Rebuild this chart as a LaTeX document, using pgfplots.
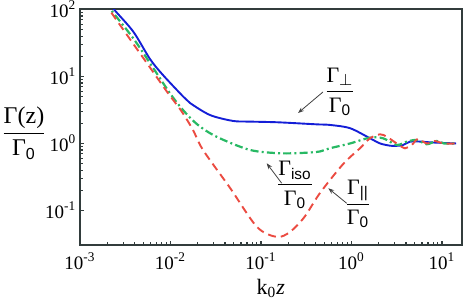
\documentclass[border=0pt]{standalone}
\usepackage{fontspec}
\setmainfont{Liberation Serif}
\setsansfont{Liberation Sans}
\usepackage{amsmath}
\usepackage{pgfplots}
\pgfplotsset{compat=1.18}
\usetikzlibrary{arrows.meta}
\definecolor{cblue}{RGB}{20,30,215}
\definecolor{cgreen}{RGB}{40,185,100}
\definecolor{cred}{RGB}{235,75,65}
\definecolor{cframe}{RGB}{50,60,60}
\begin{document}
\fontsize{9}{10}\selectfont
\begin{tikzpicture}
\begin{axis}[
  xmode=log, ymode=log,
  scale only axis, width=190.85pt, height=117.75pt,
  xmin=1e-3, xmax=16.5, ymin=0.0305, ymax=100,
  axis line style={cframe, line width=1pt},
  every tick/.style={cframe, line width=0.6pt},
  major tick length=2.2pt, minor tick length=1.4pt,
  xtick pos=left, ytick pos=left,
  xtick={0.001,0.01,0.1,1,10},
  xticklabels={10\textsuperscript{-3},10\textsuperscript{-2},10\textsuperscript{-1},10\textsuperscript{0},10\textsuperscript{1}},
  ytick={0.1,1,10,100},
  yticklabels={10\textsuperscript{-1},10\textsuperscript{0},10\textsuperscript{1},10\textsuperscript{2}},
  tick label style={font=\fontsize{9.5}{10}\selectfont},
  xticklabel style={yshift=-0.8pt},
  yticklabel style={xshift=1.3pt},
  xlabel={k\textsubscript{0}\textit{z}},
  xlabel style={font=\fontsize{11}{12}\selectfont, at={(axis description cs:0.5,0)}, anchor=center, yshift=-21.8pt},
  ylabel={$\dfrac{\text{Γ(z)}}{\text{Γ}_{\text{\sffamily 0}}}$},
  ylabel style={font=\fontsize{12}{13}\selectfont, rotate=-90, at={(axis description cs:0,0.5)}, anchor=center, xshift=-28pt, yshift=-2.9pt},
]
% Gamma_perp
\addplot[cblue, line width=0.95pt, smooth, tension=0.5] coordinates {
(0.0021,130) (0.00238,100) (0.00388,46.7) (0.00594,18.2) (0.00826,10.5)
(0.01385,4.99) (0.01642,4.02) (0.0273,2.66) (0.049,2.17) (0.0756,2.12)
(0.154,2.07) (0.4125,1.93) (0.578,1.89) (0.963,1.69) (1.60,1.196)
(2.07,1.0) (2.66,0.927) (3.1,0.92) (3.71,0.95) (4.43,1.064) (5.5,1.07)
(7.37,1.04) (10,1.02) (14.3,1.0)
};
% Gamma_iso
\addplot[cgreen, line width=1.1pt, dash pattern=on 4pt off 1.6pt on 1pt off 1.6pt, smooth, tension=0.5] coordinates {
(0.0019,130) (0.00218,100) (0.00388,37.1) (0.00646,13.3) (0.00987,5.61)
(0.01374,3.16) (0.02,1.9) (0.03266,1.25) (0.0756,0.80) (0.162,0.714)
(0.3,0.725) (0.449,0.76) (0.578,0.848) (0.963,1.0) (1.60,1.22) (2.23,1.196)
(3.16,0.95) (4.07,1.064) (5.25,1.127) (6.78,0.973) (8.74,1.09) (10.5,1.0) (14.3,1.0)
};
% Gamma_par
\addplot[cred, line width=0.95pt, dash pattern=on 4pt off 2.5pt, smooth, tension=0.5] coordinates {
(0.00185,130) (0.0021,100) (0.00357,36.0) (0.00594,13.6) (0.00908,6.0)
(0.0133,3.0) (0.01772,1.59) (0.02286,0.80) (0.0455,0.217) (0.0903,0.0567)
(0.15,0.0402) (0.209,0.0478) (0.3,0.079) (0.449,0.1825) (0.805,0.49)
(1.24,0.848) (1.60,1.196) (2.07,1.37) (2.45,1.26) (3.16,1.0) (3.90,0.848)
(4.63,0.95) (5.43,1.17) (6.78,1.0) (8.37,1.09) (10.3,1.0) (14.3,1.0)
};
\node[font=\fontsize{11}{12}\selectfont] at (axis cs:0.746,5.93) {$\dfrac{\text{Γ}_{\perp}}{\text{Γ}_{\text{\sffamily 0}}}$};
\node[font=\fontsize{11}{12}\selectfont] at (axis cs:0.2375,0.2404) {$\dfrac{\text{Γ}_{\text{\sffamily iso}}}{\text{Γ}_{\text{\sffamily 0}}}$};
\node[font=\fontsize{11}{12}\selectfont] at (axis cs:1.18,0.125) {$\dfrac{\text{Γ}_{\text{\sffamily ||}}}{\text{Γ}_{\text{\sffamily 0}}}$};
\draw[-{Stealth[length=3pt,width=2.2pt]}, line width=0.4pt, black!75] (axis cs:0.484,5.87) -- (axis cs:0.2566,2.85);
\draw[-{Stealth[length=3pt,width=2.2pt]}, line width=0.4pt, black!75] (axis cs:0.1694,0.2547) -- (axis cs:0.1156,0.506);
\draw[-{Stealth[length=3pt,width=2.2pt]}, line width=0.4pt, black!75] (axis cs:0.885,0.128) -- (axis cs:0.554,0.2145);
\end{axis}
\pgfresetboundingbox
\path[use as bounding box] ([xshift=-40pt,yshift=-27.5pt]current axis.south west) rectangle ([xshift=0.65pt,yshift=4.75pt]current axis.north east);
\end{tikzpicture}
\end{document}
